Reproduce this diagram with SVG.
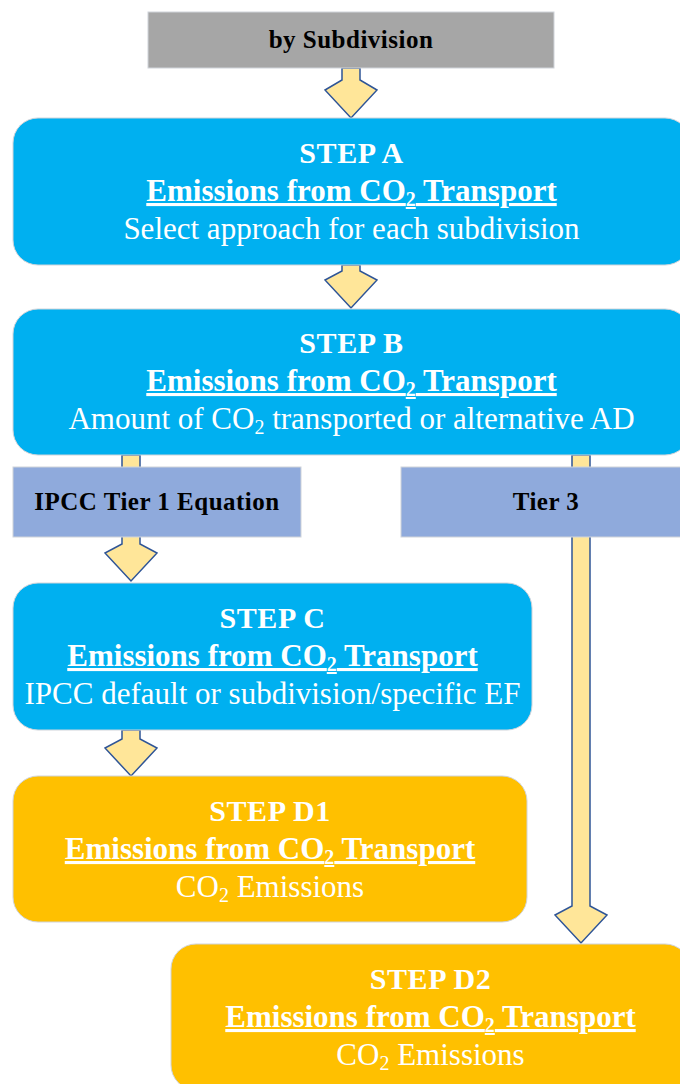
<svg xmlns="http://www.w3.org/2000/svg" width="680" height="1084" viewBox="0 0 680 1084">
<style>
.box{stroke:#d0d4da;stroke-width:1}
.blue{fill:#00b0f0}
.orange{fill:#ffc000}
.lbl{fill:#8faadc;stroke:#d0d4da;stroke-width:1}
.gray{fill:#a6a6a6;stroke:#d0d4da;stroke-width:1}
.arr{fill:#ffe699;stroke:#2f5597;stroke-width:1.5;stroke-linejoin:miter}
text{font-family:"Liberation Serif","Times New Roman",serif;text-anchor:middle}
.t1{font-size:30px;font-weight:bold;fill:#fff;letter-spacing:0.6px}
.t2{font-size:31px;font-weight:bold;fill:#fff;text-decoration:underline}
.t3{font-size:31px;fill:#fff}
.tl{font-size:25px;font-weight:bold;fill:#000;letter-spacing:0.5px}
.sub{font-size:20px}
</style>
<g id="connectors">
<polygon class="arr" points="342,68 342,80 325,90 351,118 377,90 360,80 360,68"/>
<polygon class="arr" points="342,265 342,271 325,280 351,308 377,280 360,271 360,265"/>
<polygon class="arr" points="122,455 122,544 105,553 131,581 157,553 140,544 140,455"/>
<polygon class="arr" points="122,730 122,739 105,748 131,776 157,748 140,739 140,730"/>
<polygon class="arr" points="572,455 572,906 555,915 581,943 607,915 590,906 590,455"/>
</g>
<g id="subdivision">
<rect class="gray" x="148" y="12" width="406" height="56"/>
<text class="tl" x="351" y="48">by Subdivision</text>
</g>
<g id="stepA">
<rect class="box blue" x="13" y="118" width="677" height="147" rx="25"/>
<text class="t1" x="351.5" y="163">STEP A</text>
<text class="t2" x="351.5" y="201">Emissions from CO<tspan class="sub" dy="5">2</tspan><tspan dy="-5"> Transport</tspan></text>
<text class="t3" x="351.5" y="239">Select approach for each subdivision</text>
</g>
<g id="stepB">
<rect class="box blue" x="13" y="309" width="677" height="146" rx="25"/>
<text class="t1" x="351.5" y="353">STEP B</text>
<text class="t2" x="351.5" y="391">Emissions from CO<tspan class="sub" dy="5">2</tspan><tspan dy="-5"> Transport</tspan></text>
<text class="t3" x="351.5" y="429">Amount of CO<tspan class="sub" dy="5">2</tspan><tspan dy="-5"> transported or alternative AD</tspan></text>
</g>
<g id="tier1">
<rect class="lbl" x="13" y="467" width="288" height="70"/>
<text class="tl" x="157" y="510">IPCC Tier 1 Equation</text>
</g>
<g id="tier3">
<rect class="lbl" x="401" y="467" width="290" height="70"/>
<text class="tl" x="546" y="510">Tier 3</text>
</g>
<g id="stepC">
<rect class="box blue" x="13" y="583" width="519" height="147" rx="25"/>
<text class="t1" x="272.5" y="628">STEP C</text>
<text class="t2" x="272.5" y="666">Emissions from CO<tspan class="sub" dy="5">2</tspan><tspan dy="-5"> Transport</tspan></text>
<text class="t3" x="272.5" y="704">IPCC default or subdivision/specific EF</text>
</g>
<g id="stepD1">
<rect class="box orange" x="13" y="776" width="514" height="146" rx="25"/>
<text class="t1" x="270" y="821">STEP D1</text>
<text class="t2" x="270" y="859">Emissions from CO<tspan class="sub" dy="5">2</tspan><tspan dy="-5"> Transport</tspan></text>
<text class="t3" x="270" y="897">CO<tspan class="sub" dy="5">2</tspan><tspan dy="-5"> Emissions</tspan></text>
</g>
<g id="stepD2">
<rect class="box orange" x="171" y="944" width="519" height="146" rx="25"/>
<text class="t1" x="430.5" y="989">STEP D2</text>
<text class="t2" x="430.5" y="1027">Emissions from CO<tspan class="sub" dy="5">2</tspan><tspan dy="-5"> Transport</tspan></text>
<text class="t3" x="430.5" y="1065">CO<tspan class="sub" dy="5">2</tspan><tspan dy="-5"> Emissions</tspan></text>
</g>
</svg>
